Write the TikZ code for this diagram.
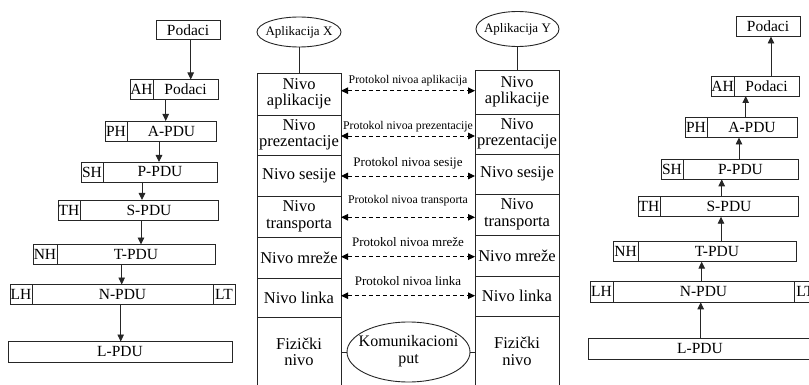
\documentclass[tikz,border=0pt]{standalone}
\usepackage{fontspec}
\setmainfont{Liberation Serif}
\newfontfamily\serifface{Liberation Serif}
\usetikzlibrary{arrows.meta,shapes.geometric}

\tikzset{
  frame/.style={draw=black!85, line width=0.9pt, rectangle, inner sep=0pt, outer sep=0pt},
  pdu/.style={frame, font=\serifface\fontsize{15.5}{16}\selectfont, minimum height=20pt},
  layer/.style={frame, align=center, font=\serifface\fontsize{16.5}{16.5}\selectfont, minimum width=84pt},
  app/.style={draw=black!85, line width=0.9pt, ellipse, inner sep=0pt, outer sep=0pt},
  link/.style={draw=black!85, line width=0.9pt},
  flow/.style={link, -{Triangle[width=6.5pt,length=7pt]}},
  proto/.style={line width=0.9pt, dash pattern=on 4pt off 3pt,
    {Triangle[width=6.5pt,length=7pt]}-{Triangle[width=6.5pt,length=7pt]}},
  plabel/.style={inner sep=0pt},
  psmall/.style={plabel, font=\serifface\fontsize{11.8}{12}\selectfont},
  pbig/.style={plabel, font=\serifface\fontsize{13}{13}\selectfont},
}

\begin{document}
\begin{tikzpicture}[x=1pt,y=-1pt]
\useasboundingbox (0,0) rectangle (809,385);

% ---------- sending side: encapsulation ----------
\node[pdu, minimum width=64pt, minimum height=19pt] (srcA) at (188,30) {Podaci};
\node[pdu, minimum width=23pt]  (ahA) at (141.5,89.5) {AH};
\node[pdu, minimum width=65pt]  (dA)  at (185.5,89.5) {Podaci};
\node[pdu, minimum width=22pt]  (phA) at (116,131) {PH};
\node[pdu, minimum width=89pt]  (apA) at (171.5,131) {A-PDU};
\node[pdu, minimum width=22pt]  (shA) at (92,172) {SH};
\node[pdu, minimum width=114pt] (ppA) at (160,172) {P-PDU};
\node[pdu, minimum width=22pt]  (thA) at (69,210) {TH};
\node[pdu, minimum width=138pt] (spA) at (149,210) {S-PDU};
\node[pdu, minimum width=24pt]  (nhA) at (45,254.5) {NH};
\node[pdu, minimum width=158pt] (tpA) at (136,254.5) {T-PDU};
\node[pdu, minimum width=22pt]  (lhA) at (21,294.5) {LH};
\node[pdu, minimum width=181pt] (npA) at (122.5,294.5) {N-PDU};
\node[pdu, minimum width=22pt]  (ltA) at (224,294.5) {LT};
\node[pdu, minimum width=224pt, minimum height=20.5pt] (lpA) at (120,351.75) {L-PDU};

\draw[flow] ([xshift=2.7pt]srcA.south) -- ([xshift=5.2pt]dA.north);
\draw[flow] ([xshift=-19.8pt]dA.south) -- ([xshift=-5.8pt]apA.north);
\draw[flow] ([xshift=-12.5pt]apA.south) -- ([xshift=-1pt]ppA.north);
\draw[flow] ([xshift=-18pt]ppA.south) -- ([xshift=-7pt]spA.north);
\draw[flow] ([xshift=-8pt]spA.south) -- ([xshift=5pt]tpA.north);
\draw[flow] ([xshift=-14.3pt]tpA.south) -- ([xshift=-0.8pt]npA.north);
\draw[flow] ([xshift=-1.8pt]npA.south) -- ([xshift=0.7pt]lpA.north);

% ---------- receiving side: decapsulation ----------
\node[pdu, minimum width=64pt]  (dstB) at (768,26.5) {Podaci};
\node[pdu, minimum width=23pt]  (ahB) at (722.5,86) {AH};
\node[pdu, minimum width=65pt]  (dB)  at (766.5,86) {Podaci};
\node[pdu, minimum width=22pt]  (phB) at (696,127.5) {PH};
\node[pdu, minimum width=90pt]  (apB) at (752,127.5) {A-PDU};
\node[pdu, minimum width=22pt]  (shB) at (672,169.3) {SH};
\node[pdu, minimum width=115pt] (ppB) at (740.5,169.3) {P-PDU};
\node[pdu, minimum width=22pt]  (thB) at (649,206.7) {TH};
\node[pdu, minimum width=138pt] (spB) at (729,206.7) {S-PDU};
\node[pdu, minimum width=25pt, minimum height=20.7pt]  (nhB) at (625.5,251.3) {NH};
\node[pdu, minimum width=158pt, minimum height=20.7pt] (tpB) at (717,251.3) {T-PDU};
\node[pdu, minimum width=23pt, minimum height=21pt]  (lhB) at (601.5,291.8) {LH};
\node[pdu, minimum width=181pt, minimum height=21pt] (npB) at (703.5,291.8) {N-PDU};
\node[pdu, minimum width=22pt, minimum height=21pt]  (ltB) at (805,291.8) {LT};
\node[pdu, minimum width=224pt, minimum height=20.7pt] (lpB) at (700,348.7) {L-PDU};

\draw[flow] ([xshift=4.5pt]dB.north) -- ([xshift=3pt]dstB.south);
\draw[flow] ([xshift=-6.3pt]apB.north) -- ([xshift=-20.8pt]dB.south);
\draw[flow] ([xshift=-1.5pt]ppB.north) -- ([xshift=-13pt]apB.south);
\draw[flow] ([xshift=-7.3pt]spB.north) -- ([xshift=-18.8pt]ppB.south);
\draw[flow] ([xshift=4pt]tpB.north) -- ([xshift=-8pt]spB.south);
\draw[flow] ([xshift=-1.8pt]npB.north) -- ([xshift=-15.3pt]tpB.south);
\draw[flow] ([xshift=0.7pt]lpB.north) -- ([xshift=-2.8pt]npB.south);

% ---------- the two protocol stacks ----------
\node[app, minimum width=84pt, minimum height=30pt, font=\serifface\fontsize{13}{13}\selectfont]
  (appX) at (299,32) {\makebox[0pt]{Aplikacija X}};
\node[app, minimum width=83pt, minimum height=35pt, font=\serifface\fontsize{13}{13}\selectfont]
  (appY) at (517.5,29) {\makebox[0pt]{Aplikacija Y}};

\node[layer, minimum height=42pt] (lsA) at (299,94)    {Nivo\\aplikacije};
\node[layer, minimum height=40pt] (lsP) at (299,135)   {Nivo\\prezentacije};
\node[layer, minimum height=41pt] (lsS) at (299,175.5) {Nivo sesije};
\node[layer, minimum height=41pt] (lsT) at (299,216.5) {Nivo\\transporta};
\node[layer, minimum height=41pt] (lsN) at (299,257.5) {Nivo mreže};
\node[layer, minimum height=39pt] (lsL) at (299,297.5) {Nivo linka};
\node[layer, minimum height=70pt] (lsF) at (299,352)   {Fizički\\nivo};

\node[layer, minimum height=44pt] (rsA) at (517,92)    {Nivo\\aplikacije};
\node[layer, minimum height=40pt] (rsP) at (517,134)   {Nivo\\prezentacije};
\node[layer, minimum height=40pt] (rsS) at (517,174)   {Nivo sesije};
\node[layer, minimum height=41pt] (rsT) at (517,214.5) {Nivo\\transporta};
\node[layer, minimum height=41pt] (rsN) at (517,255.5) {Nivo mreže};
\node[layer, minimum height=40pt] (rsL) at (517,296)   {Nivo linka};
\node[layer, minimum height=71pt] (rsF) at (517,351.5) {Fizički\\nivo};

\node[app, minimum width=123pt, minimum height=60pt, font=\serifface\fontsize{16}{17}\selectfont]
  (comm) at (408.5,352)
  {\makebox[0pt]{\begin{tabular}{@{}c@{}}Komunikacioni\\put\end{tabular}}};

\draw[link] (appX.south) -- (lsA.north);
\draw[link] (appY.south) -- (appY.south |- rsA.north);
\draw[link] (lsF.east |- comm.west) -- (comm.west);
\draw[link] (comm.east) -- (rsF.west |- comm.east);

% ---------- peer-to-peer protocols ----------
\draw[proto] ([yshift=3.3pt]lsA.east) -- ([yshift=1.3pt]rsA.west)
  node[psmall, midway, yshift=9.7pt] (pA) {Protokol nivoa aplikacija};
\draw[proto] ([yshift=-1pt]lsP.east) -- ([yshift=-2pt]rsP.west)
  node[psmall, midway, yshift=9.3pt] (pP) {Protokol nivoa prezentacije};
\draw[proto] ([yshift=-0.5pt]lsS.east) -- ([yshift=-2pt]rsS.west)
  node[pbig, midway, yshift=12.7pt] (pS) {Protokol nivoa sesije};
\draw[proto] ([yshift=-0.8pt]lsT.east) -- ([yshift=-2.8pt]rsT.west)
  node[psmall, midway, yshift=16.6pt] (pT) {Protokol nivoa transporta};
\draw[proto] ([yshift=0.8pt]lsN.east) -- ([yshift=-1.2pt]rsN.west)
  node[pbig, midway, yshift=15pt] (pN) {Protokol nivoa mreže};
\draw[proto] ([yshift=1.8pt]lsL.east) -- ([yshift=0.3pt]rsL.west)
  node[pbig, midway, yshift=15pt] (pL) {Protokol nivoa linka};

\end{tikzpicture}
\end{document}
